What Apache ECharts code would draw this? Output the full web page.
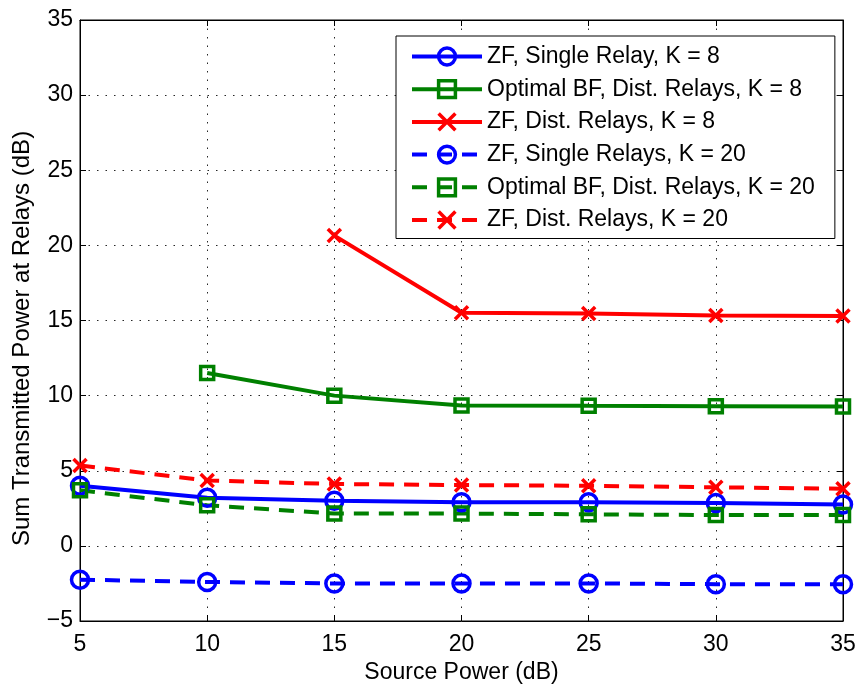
<!DOCTYPE html>
<html>
<head>
<meta charset="utf-8">
<script src="https://cdn.jsdelivr.net/npm/echarts@6/dist/echarts.min.js"></script>
<style>
  html, body { margin: 0; padding: 0; background: #fff; }
  #chart { width: 858px; height: 684px; }
</style>
</head>
<body>
<div id="chart"></div>
<script>
// Source power (dB) on the x axis
const sourcePower = [5, 10, 15, 20, 25, 30, 35];

// Sum transmitted power at relays (dB); null where a scheme has no point
const zfSingleK8   = [4.0, 3.2, 3.0, 2.9, 2.9, 2.85, 2.75];
const optBfDistK8  = [null, 11.5, 10.0, 9.35, 9.32, 9.3, 9.28];
const zfDistK8     = [null, null, 20.65, 15.52, 15.46, 15.33, 15.3];
const zfSingleK20  = [-2.25, -2.4, -2.5, -2.5, -2.5, -2.55, -2.55];
const optBfDistK20 = [3.7, 2.7, 2.15, 2.15, 2.1, 2.05, 2.05];
const zfDistK20    = [5.35, 4.35, 4.12, 4.05, 4.0, 3.9, 3.8];

const seriesNames = [
  'ZF, Single Relay, K = 8',
  'Optimal BF, Dist. Relays, K = 8',
  'ZF, Dist. Relays, K = 8',
  'ZF, Single Relays, K = 20',
  'Optimal BF, Dist. Relays, K = 20',
  'ZF, Dist. Relays, K = 20'
];

const xTicks = { min: 5, max: 35, interval: 5 };
const yTicks = { min: -5, max: 35, interval: 5 };

const BLUE = '#0000ff', GREEN = '#008000', RED = '#ff0000';
const FONT = '"Liberation Sans", Arial, Helvetica, sans-serif';
const FONT_SIZE = 23;
const crossPath = 'path://M0,0L10,10M10,0L0,10';

function pairs(values) {
  return sourcePower.map((x, i) => [x, values[i]]).filter(p => p[1] !== null);
}

function makeSeries(name, values, color, dashed, symbol, size) {
  return {
    name: name,
    type: 'line',
    data: pairs(values),
    xAxisIndex: 0,
    yAxisIndex: 0,
    symbol: symbol,
    symbolSize: size,
    showAllSymbol: true,
    connectNulls: false,
    animation: false,
    lineStyle: { color: color, width: 4, type: dashed ? [15, 10] : 'solid' },
    itemStyle: { color: 'rgba(0,0,0,0)', borderColor: color, borderWidth: 3.5 },
    emphasis: { disabled: true },
    z: 3
  };
}

const gridLine = { show: true, lineStyle: { color: '#000', type: [1.5, 7], width: 1, opacity: 0.85 } };
const axisText = { color: '#000', fontFamily: FONT, fontSize: FONT_SIZE };
const minusSign = v => String(v).replace('-', '\u2212');

const chart = echarts.init(document.getElementById('chart'), null, { renderer: 'canvas' });
chart.setOption({
  backgroundColor: '#fff',
  animation: false,
  grid: {
    left: 80, right: 15, top: 20, bottom: 63,
    outerBoundsMode: 'none',
    containLabel: false,
    show: true, borderColor: '#000', borderWidth: 1, backgroundColor: '#fff'
  },
  xAxis: [
    {
      type: 'value', position: 'bottom',
      min: xTicks.min, max: xTicks.max, interval: xTicks.interval,
      name: 'Source Power (dB)', nameLocation: 'middle', nameGap: 38,
      nameTextStyle: axisText,
      axisLine: { show: true, onZero: false, lineStyle: { color: '#000', width: 1 } },
      axisTick: { show: true, inside: true, length: 6, lineStyle: { color: '#000' } },
      axisLabel: Object.assign({ margin: 12 }, axisText),
      splitLine: gridLine
    },
    {
      type: 'value', position: 'top',
      min: xTicks.min, max: xTicks.max, interval: xTicks.interval,
      axisLine: { show: true, onZero: false, lineStyle: { color: '#000', width: 1 } },
      axisTick: { show: true, inside: true, length: 6, lineStyle: { color: '#000' } },
      axisLabel: { show: false },
      splitLine: { show: false }
    }
  ],
  yAxis: [
    {
      type: 'value', position: 'left',
      min: yTicks.min, max: yTicks.max, interval: yTicks.interval,
      name: 'Sum Transmitted Power at Relays (dB)', nameLocation: 'middle', nameGap: 46,
      nameTextStyle: Object.assign({}, axisText, { fontSize: 24, padding: [0, 36, 0, 0] }),
      axisLine: { show: true, onZero: false, lineStyle: { color: '#000', width: 1 } },
      axisTick: { show: true, inside: true, length: 6, lineStyle: { color: '#000' } },
      axisLabel: Object.assign({ margin: 7, formatter: minusSign }, axisText),
      splitLine: gridLine
    },
    {
      type: 'value', position: 'right',
      min: yTicks.min, max: yTicks.max, interval: yTicks.interval,
      axisLine: { show: true, onZero: false, lineStyle: { color: '#000', width: 1 } },
      axisTick: { show: true, inside: true, length: 6, lineStyle: { color: '#000' } },
      axisLabel: { show: false },
      splitLine: { show: false }
    }
  ],
  legend: {
    orient: 'vertical',
    left: 396, top: 36,
    padding: [9, 20, 7, 14],
    itemWidth: 70, itemHeight: 21, itemGap: 9.7,
    backgroundColor: '#fff',
    borderColor: '#000', borderWidth: 1,
    lineStyle: { width: 4 },
    itemStyle: { borderWidth: 3.5 },
    textStyle: { color: '#000', fontFamily: FONT, fontSize: FONT_SIZE, lineHeight: 23 },
    selectedMode: false,
    data: seriesNames
  },
  series: [
    makeSeries(seriesNames[0], zfSingleK8, BLUE, false, 'circle', 17),
    makeSeries(seriesNames[1], optBfDistK8, GREEN, false, 'rect', 13),
    makeSeries(seriesNames[2], zfDistK8, RED, false, crossPath, 13),
    makeSeries(seriesNames[3], zfSingleK20, BLUE, true, 'circle', 17),
    makeSeries(seriesNames[4], optBfDistK20, GREEN, true, 'rect', 13),
    makeSeries(seriesNames[5], zfDistK20, RED, true, crossPath, 13)
  ]
});
</script>
</body>
</html>
